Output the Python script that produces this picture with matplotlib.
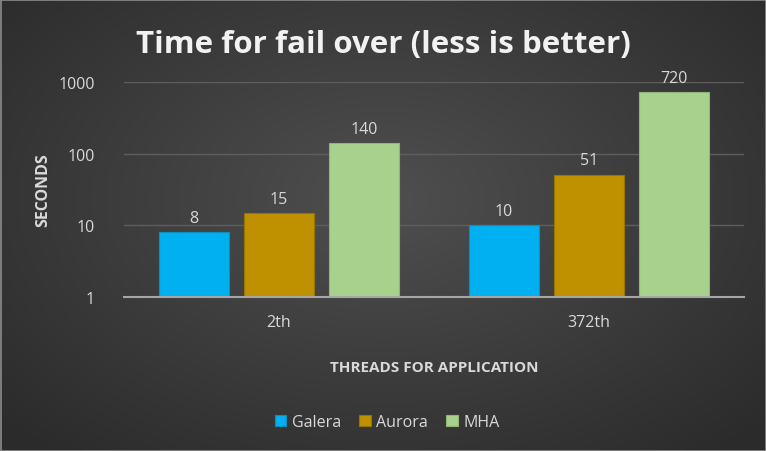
import numpy as np
import matplotlib
matplotlib.use("Agg")
import matplotlib.pyplot as plt

categories = ["2th", "372th"]
series = ["Galera", "Aurora", "MHA"]
galera = [8, 10]
aurora = [15, 51]
mha = [140, 720]
values = [galera, aurora, mha]
colors = ["#00B0F0", "#BF9000", "#A9D18E"]
edge_colors = ["#0a8fc0", "#9a7400", "#8fb578"]

plt.rcParams['font.family'] = ['Open Sans', 'DejaVu Sans']

fig = plt.figure(figsize=(7.66, 4.52), dpi=100)

# radial gradient background
bg = fig.add_axes([0, 0, 1, 1], zorder=0)
yy, xx = np.mgrid[0:452, 0:766]
r = np.sqrt(((xx - 383) / 520.0) ** 2 + ((yy - 200) / 330.0) ** 2)
shade = 0.31 - 0.14 * np.clip(r, 0, 1)
bg.imshow(np.dstack([shade, shade, shade]), extent=[0, 766, 452, 0], aspect='auto')
bg.add_patch(plt.Rectangle((0.5, 0.5), 765, 451, fill=False, edgecolor="#8c8c8c", lw=1.2))
bg.set_xlim(0, 766)
bg.set_ylim(452, 0)
bg.axis('off')

ax = fig.add_axes([124 / 766, 1 - 298 / 452, 620 / 766, 215 / 452], zorder=1)
ax.patch.set_alpha(0)
ax.set_yscale('log')
ax.set_ylim(1, 1000)
ax.set_xlim(-0.5, 1.5)

x = np.arange(len(categories))
width = 0.226
step = 0.274
for i, (name, vals) in enumerate(zip(series, values)):
    pos = x + (i - 1) * step
    bars = ax.bar(pos, vals, width, color=colors[i], edgecolor=edge_colors[i],
                  linewidth=0.8, label=name, zorder=3)
    for b, v in zip(bars, vals):
        ax.text(b.get_x() + b.get_width() / 2, v * 1.22, str(v), ha='center', va='bottom',
                color="#d9d9d9", fontsize=11.5)

ax.set_yticks([1, 10, 100, 1000])
ax.set_yticklabels(["1", "10", "100", "1000"])
ax.yaxis.set_minor_locator(matplotlib.ticker.NullLocator())
ax.set_xticks(x)
ax.set_xticklabels(categories)
ax.tick_params(axis='both', length=0, colors="#d9d9d9", labelsize=11.5)
ax.tick_params(axis='y', pad=21)
ax.tick_params(axis='x', pad=12)
ax.grid(axis='y', color="#5e5e5e", linewidth=1, zorder=0)
for s in ['top', 'right', 'left']:
    ax.spines[s].set_visible(False)
ax.spines['bottom'].set_color("#a6a6a6")
ax.spines['bottom'].set_linewidth(1.5)
ax.spines['bottom'].set_zorder(4)

ax.set_ylabel("SECONDS", color="#d9d9d9", fontsize=11.5, fontweight='bold', labelpad=5)
ax.set_xlabel("THREADS FOR APPLICATION", color="#d9d9d9", fontsize=11, fontweight='bold', labelpad=22)

fig.text(383 / 766, 1 - 45 / 452, "Time for fail over (less is better)", ha='center', va='center',
         color="#f2f2f2", fontsize=22.5, fontweight='bold')

leg = fig.legend(loc='center', bbox_to_anchor=(387 / 766, 1 - 423 / 452), ncol=3, frameon=False,
                 fontsize=11.5, handlelength=0.75, handleheight=0.75, handletextpad=0.35, columnspacing=1.1)
for t in leg.get_texts():
    t.set_color("#d9d9d9")

fig.savefig("out.png", dpi=100)
